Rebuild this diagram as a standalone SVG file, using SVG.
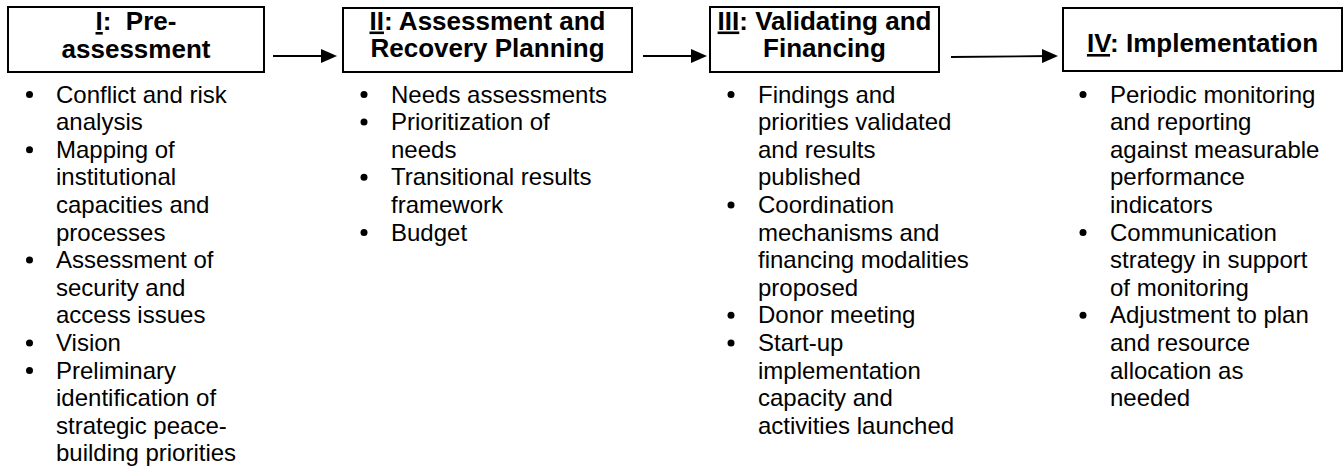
<svg xmlns="http://www.w3.org/2000/svg" width="1344" height="466" viewBox="0 0 1344 466">
<style>
.box{fill:#fff;stroke:#000;stroke-width:2}
.h{font-family:"Liberation Sans",Arial,sans-serif;font-weight:bold;font-size:26px;fill:#000;text-anchor:middle}
.b{font-family:"Liberation Sans",Arial,sans-serif;font-size:24px;fill:#000}
.u{text-decoration:underline}
.conn{stroke:#000;stroke-width:1.8;fill:none}
</style>
<defs>
<marker id="ah" markerUnits="userSpaceOnUse" viewBox="0 0 16 14" refX="9" refY="7" markerWidth="16" markerHeight="14" orient="auto">
<path d="M0,0 L16,7 L0,14 Z" fill="#000"/>
</marker>
</defs>
<rect width="1344" height="466" fill="#fff"/>
<g id="connectors">
<line class="conn" x1="273" y1="56" x2="330" y2="56" marker-end="url(#ah)"/>
<line class="conn" x1="643" y1="56" x2="700" y2="56" marker-end="url(#ah)"/>
<line class="conn" x1="951" y1="57" x2="1051" y2="56" marker-end="url(#ah)"/>
</g>
<g id="node1">
<rect class="box" x="8" y="7" width="256" height="65"/>
<text class="h" x="136" y="30" xml:space="preserve"><tspan class="u">I</tspan>:  Pre-</text>
<text class="h" x="136" y="57.5">assessment</text>
<g fill="#000">
<circle cx="29.5" cy="94.5" r="3.5"/><circle cx="29.5" cy="149.7" r="3.5"/><circle cx="29.5" cy="260.1" r="3.5"/><circle cx="29.5" cy="342.9" r="3.5"/><circle cx="29.5" cy="370.5" r="3.5"/>
</g>
<text class="b" y="102.5">
<tspan x="56">Conflict and risk</tspan>
<tspan x="56" dy="27.6">analysis</tspan>
<tspan x="56" dy="27.6">Mapping of</tspan>
<tspan x="56" dy="27.6">institutional</tspan>
<tspan x="56" dy="27.6">capacities and</tspan>
<tspan x="56" dy="27.6">processes</tspan>
<tspan x="56" dy="27.6">Assessment of</tspan>
<tspan x="56" dy="27.6">security and</tspan>
<tspan x="56" dy="27.6">access issues</tspan>
<tspan x="56" dy="27.6">Vision</tspan>
<tspan x="56" dy="27.6">Preliminary</tspan>
<tspan x="56" dy="27.6">identification of</tspan>
<tspan x="56" dy="27.6">strategic peace-</tspan>
<tspan x="56" dy="27.6">building priorities</tspan>
</text>
</g>
<g id="node2">
<rect class="box" x="343" y="8" width="289" height="64"/>
<text class="h" x="487.5" y="29.5"><tspan class="u">II</tspan>: Assessment and</text>
<text class="h" x="487.5" y="57">Recovery Planning</text>
<g fill="#000">
<circle cx="364" cy="94.5" r="3.5"/><circle cx="364" cy="122.1" r="3.5"/><circle cx="364" cy="177.3" r="3.5"/><circle cx="364" cy="232.5" r="3.5"/>
</g>
<text class="b" y="102.5">
<tspan x="391">Needs assessments</tspan>
<tspan x="391" dy="27.6">Prioritization of</tspan>
<tspan x="391" dy="27.6">needs</tspan>
<tspan x="391" dy="27.6">Transitional results</tspan>
<tspan x="391" dy="27.6">framework</tspan>
<tspan x="391" dy="27.6">Budget</tspan>
</text>
</g>
<g id="node3">
<rect class="box" x="710" y="7" width="229" height="65"/>
<text class="h" x="824.5" y="29.5"><tspan class="u">III</tspan>: Validating and</text>
<text class="h" x="824.5" y="57">Financing</text>
<g fill="#000">
<circle cx="731" cy="94.5" r="3.5"/><circle cx="731" cy="204.9" r="3.5"/><circle cx="731" cy="315.3" r="3.5"/><circle cx="731" cy="342.9" r="3.5"/>
</g>
<text class="b" y="102.5">
<tspan x="758">Findings and</tspan>
<tspan x="758" dy="27.6">priorities validated</tspan>
<tspan x="758" dy="27.6">and results</tspan>
<tspan x="758" dy="27.6">published</tspan>
<tspan x="758" dy="27.6">Coordination</tspan>
<tspan x="758" dy="27.6">mechanisms and</tspan>
<tspan x="758" dy="27.6">financing modalities</tspan>
<tspan x="758" dy="27.6">proposed</tspan>
<tspan x="758" dy="27.6">Donor meeting</tspan>
<tspan x="758" dy="27.6">Start-up</tspan>
<tspan x="758" dy="27.6">implementation</tspan>
<tspan x="758" dy="27.6">capacity and</tspan>
<tspan x="758" dy="27.6">activities launched</tspan>
</text>
</g>
<g id="node4">
<rect class="box" x="1063" y="8" width="279" height="63"/>
<text class="h" x="1202.5" y="52"><tspan class="u">IV</tspan>: Implementation</text>
<g fill="#000">
<circle cx="1083" cy="94.5" r="3.5"/><circle cx="1083" cy="232.5" r="3.5"/><circle cx="1083" cy="315.3" r="3.5"/>
</g>
<text class="b" y="102.5">
<tspan x="1110">Periodic monitoring</tspan>
<tspan x="1110" dy="27.6">and reporting</tspan>
<tspan x="1110" dy="27.6">against measurable</tspan>
<tspan x="1110" dy="27.6">performance</tspan>
<tspan x="1110" dy="27.6">indicators</tspan>
<tspan x="1110" dy="27.6">Communication</tspan>
<tspan x="1110" dy="27.6">strategy in support</tspan>
<tspan x="1110" dy="27.6">of monitoring</tspan>
<tspan x="1110" dy="27.6">Adjustment to plan</tspan>
<tspan x="1110" dy="27.6">and resource</tspan>
<tspan x="1110" dy="27.6">allocation as</tspan>
<tspan x="1110" dy="27.6">needed</tspan>
</text>
</g>
</svg>
